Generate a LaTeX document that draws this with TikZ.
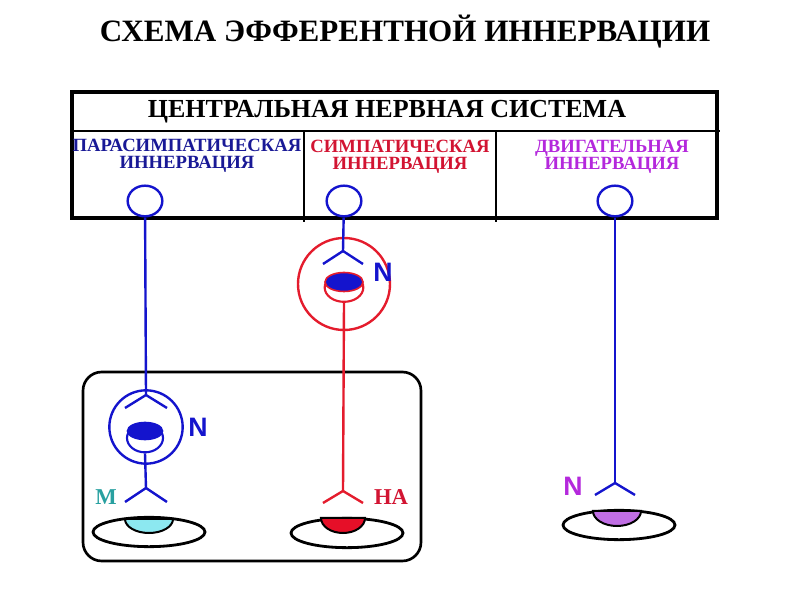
\documentclass[tikz,border=0pt]{standalone}
\usepackage{fontspec}
\setmainfont{Liberation Serif}
\setsansfont{Liberation Sans}
\usetikzlibrary{positioning, shapes.geometric}

\definecolor{nerveblue}{RGB}{20,20,205}
\definecolor{nervered}{RGB}{228,28,45}
\definecolor{paratext}{RGB}{25,25,150}
\definecolor{symtext}{RGB}{210,20,50}
\definecolor{mototext}{RGB}{180,40,220}
\definecolor{capcyan}{RGB}{140,232,240}
\definecolor{capred}{RGB}{230,15,40}
\definecolor{cappurple}{RGB}{192,110,228}
\definecolor{mteal}{RGB}{40,160,160}

\begin{document}
\begin{tikzpicture}[
    x=0.75pt, y=-0.75pt,
    topcell/.style={draw=nerveblue, line width=1.8pt, ellipse, minimum width=26pt, minimum height=23pt, inner sep=0pt},
    ganglion/.style={draw, circle, line width=1.8pt, inner sep=0pt},
    soma/.style={draw, ellipse, line width=1.6pt, minimum width=27pt, minimum height=21.5pt, inner sep=0pt},
    nerve/.style={line width=1.8pt},
    organ/.style={draw=black, ellipse, line width=2.1pt, minimum width=84pt, minimum height=22pt, inner sep=0pt},
    organcap/.style={draw=black, line width=1.5pt},
    sublabel/.style={font=\bfseries\fontsize{14}{12.5}\selectfont, align=center},
    letter/.style={font=\bfseries\fontsize{17}{17}\selectfont},
    nmark/.style={font=\sffamily\bfseries\fontsize{20}{20}\selectfont}
]
    \useasboundingbox (0,0) rectangle (794,595);

    % Title
    \node[font=\bfseries\fontsize{23.3}{25}\selectfont] (title) at (405,32) {СХЕМА ЭФФЕРЕНТНОЙ ИННЕРВАЦИИ};

    % CNS box
    \draw[line width=3pt] (72,92) rectangle (717,218);
    \draw[line width=2.2pt] (72,131) -- (720,131);
    \draw[line width=1.4pt] (304,131) -- (304,222);
    \draw[line width=1.4pt] (496,131) -- (496,222);
    \node[font=\bfseries\fontsize{19.5}{20}\selectfont] (cns) at (387,112) {ЦЕНТРАЛЬНАЯ НЕРВНАЯ СИСТЕМА};
    \node[sublabel, text=paratext] (paralbl) at (187,156) {ПАРАСИМПАТИЧЕСКАЯ\\ИННЕРВАЦИЯ};
    \node[sublabel, text=symtext] (symlbl) at (400,157) {СИМПАТИЧЕСКАЯ\\ИННЕРВАЦИЯ};
    \node[sublabel, text=mototext] (motolbl) at (612,157) {ДВИГАТЕЛЬНАЯ\\ИННЕРВАЦИЯ};

    % Neurons in the CNS
    \node[topcell] (paratop) at (145,201) {};
    \node[topcell] (symtop) at (344,201) {};
    \node[topcell] (mototop) at (615,201) {};

    % Organ box of the autonomic pathways
    \draw[line width=2pt, rounded corners=14pt] (83,372) rectangle (421,561);

    % Parasympathetic pathway
    \node[ganglion, draw=nerveblue, minimum size=55pt] (paraggl) at (146,427) {};
    \coordinate (parasyn) at (146,395);
    \node[soma, draw=nerveblue] (parasoma) at (145,438) {};
    \draw[nerveblue, fill=nerveblue, line width=1.2pt] (145,431) ellipse [x radius=17.5, y radius=8.5];
    \coordinate (parafork) at (146,488);
    \draw[nerve, nerveblue] (paratop) -- (parasyn);
    \draw[nerve, nerveblue] (parasyn) -- ++(-21,13) (parasyn) -- ++(21,13);
    \draw[nerve, nerveblue] (parasoma.south) -- (parafork);
    \draw[nerve, nerveblue] (parafork) -- ++(-21,14) (parafork) -- ++(21,14);
    \node[nmark, text=nerveblue] (paran) at (198,427) {N};
    \node[letter, text=mteal] (mlbl) at (106,497) {М};
    \node[organ] (paraorgan) at (149,532) {};
    \draw[organcap, fill=capcyan] (125,519) arc[start angle=180, end angle=0, x radius=24, y radius=14] -- cycle;

    % Sympathetic pathway
    \node[ganglion, draw=nervered, minimum size=69pt] (symggl) at (344,284) {};
    \coordinate (symsyn) at (343,251);
    \node[soma, draw=nervered, minimum width=29pt] (symsoma) at (344,287.5) {};
    \draw[nervered, fill=nerveblue, line width=1.2pt] (344,282) ellipse [x radius=19, y radius=9.5];
    \coordinate (symfork) at (343,491);
    \draw[nerve, nerveblue] (symtop) -- (symsyn);
    \draw[nerve, nerveblue] (symsyn) -- ++(-20,13) (symsyn) -- ++(20,13);
    \draw[nerve, nervered] (symsoma.south) -- (symfork);
    \draw[nerve, nervered] (symfork) -- ++(-20,12) (symfork) -- ++(20,12);
    \node[nmark, text=nerveblue] (symn) at (383,272) {N};
    \node[letter, text=symtext] (nalbl) at (391,497) {НА};
    \node[organ] (symorgan) at (347,533) {};
    \draw[organcap, fill=capred] (321,518) arc[start angle=180, end angle=0, x radius=22, y radius=15] -- cycle;

    % Motor pathway
    \coordinate (motofork) at (615,483);
    \draw[nerve, nerveblue] (mototop) -- (motofork);
    \draw[nerve, nerveblue] (motofork) -- ++(-20,12) (motofork) -- ++(20,12);
    \node[nmark, text=mototext] (moton) at (573,486) {N};
    \node[organ] (motoorgan) at (619,525) {};
    \draw[organcap, fill=cappurple] (593,511) arc[start angle=180, end angle=0, x radius=24, y radius=15] -- cycle;
\end{tikzpicture}
\end{document}
